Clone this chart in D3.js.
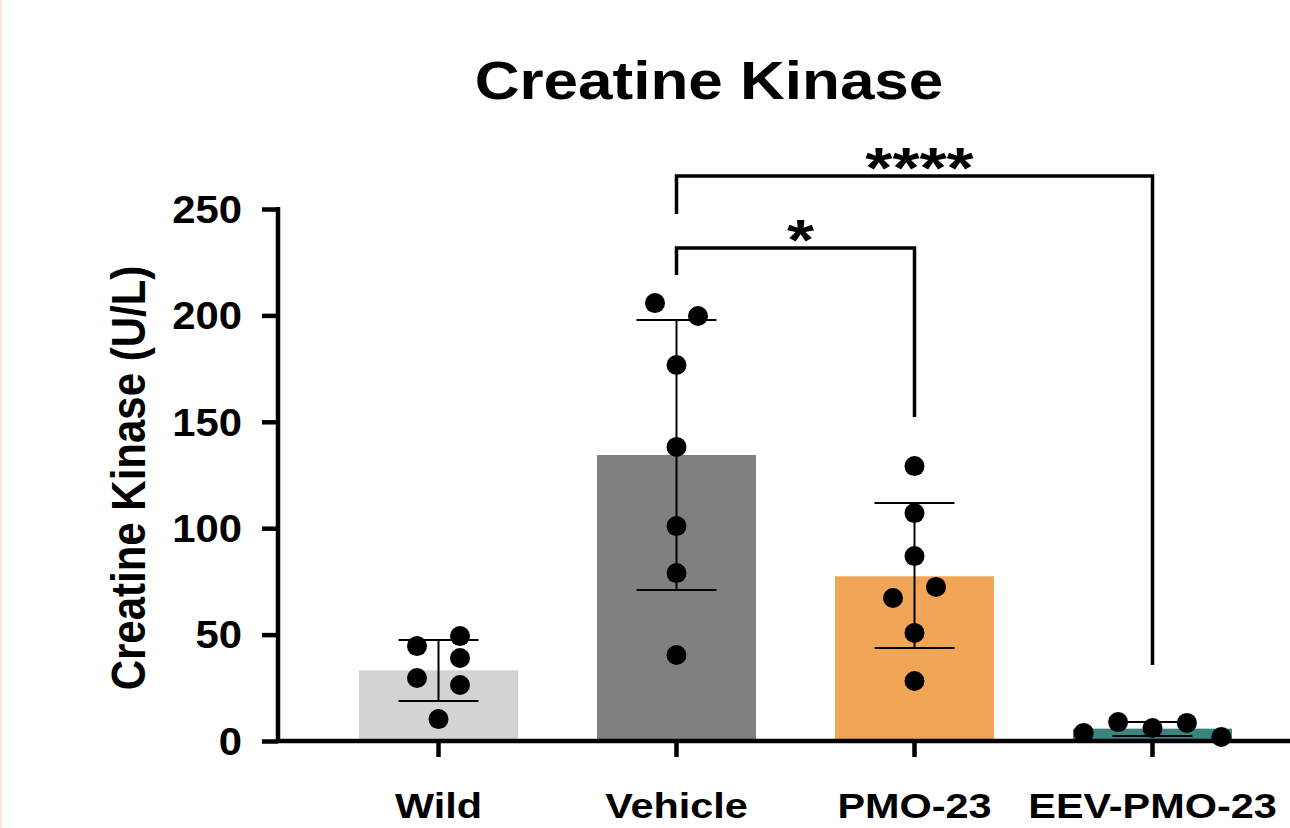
<!DOCTYPE html>
<html>
<head>
<meta charset="utf-8">
<script src="https://cdn.jsdelivr.net/npm/d3@7"></script>
<style>
  body { margin: 0; background: #fff; }
  svg { display: block; }
  text { font-family: "Liberation Sans", Arial, Helvetica, sans-serif; font-weight: bold; fill: #000; }
</style>
</head>
<body>
<div id="chart"></div>
<script>
// data
var groups = ["Wild", "Vehicle", "PMO-23", "EEV-PMO-23"];
var barColors = ["#d3d3d3", "#808080", "#f0a656", "#3a8580"];
var barMeans = [33.2, 134.4, 77.4, 5.8];
var errHigh = [47.5, 197.8, 111.8, 8.9];
var errLow = [18.8, 71.0, 43.7, 2.3];

var wildPts = [49.3, 44.6, 39.0, 29.6, 26.3, 10.3];
var vehiclePts = [205.8, 199.7, 176.7, 138.2, 101.0, 78.9, 40.4];
var pmoPts = [129.2, 107.1, 86.9, 72.4, 67.2, 50.8, 28.2];
var eevPts = [3.8, 8.9, 6.1, 8.5, 1.9];
// jitter slot of each dot (side-by-side placement)
var wildSlots = [1, -1, 1, -1, 1, 0];
var vehicleSlots = [-1, 1, 0, 0, 0, 0, 0];
var pmoSlots = [0, 0, 0, 1, -1, 0, 0];
var eevSlots = [-3.2, -1.6, 0, 1.6, 3.2];

var yTicks = [0, 50, 100, 150, 200, 250];

// significance brackets: from group, to group, bar height, leg ends, label
var sigFrom = ["Vehicle", "Vehicle"];
var sigTo = ["EEV-PMO-23", "PMO-23"];
var sigLevel = [265.5, 231.7];
var sigLeftEnd = [247.7, 219.0];
var sigRightEnd = [35.7, 152.3];
var sigLabel = ["****", "*"];

var W = 1290, H = 828;
var svg = d3.select("#chart").append("svg")
    .attr("width", W)
    .attr("height", H);

// faint left page edge
svg.append("rect")
    .attr("x", 0).attr("y", 0)
    .attr("width", 2).attr("height", H)
    .attr("fill", "#fcebd8");

var x = d3.scaleBand()
    .domain(groups)
    .range([280, 1311])
    .padding(0.332);

var y = d3.scaleLinear()
    .domain([0, 250])
    .range([741, 209]);

var sx = 1.15; // glyphs in the picture are a bit wide

function cx(g){ return x(g) + x.bandwidth() / 2; }

// bars
svg.selectAll(".bar")
    .data(groups)
    .enter()
    .append("rect")
    .attr("class", "bar")
    .attr("x", function(d){ return x(d); })
    .attr("width", x.bandwidth())
    .attr("y", function(d, i){ return y(barMeans[i]); })
    .attr("height", function(d, i){ return y(0) - y(barMeans[i]); })
    .attr("fill", function(d, i){ return barColors[i]; });

// error bars
var err = svg.append("g").attr("class", "errors")
    .attr("stroke", "#000")
    .attr("stroke-width", 2);
groups.forEach(function(g, i){
    var c = cx(g);
    err.append("line")
        .attr("x1", c).attr("x2", c)
        .attr("y1", y(errHigh[i])).attr("y2", y(errLow[i]));
    [errHigh[i], errLow[i]].forEach(function(v){
        err.append("line")
            .attr("x1", c - 40).attr("x2", c + 40)
            .attr("y1", y(v)).attr("y2", y(v));
    });
});

// dots
var pts = [wildPts, vehiclePts, pmoPts, eevPts];
var slots = [wildSlots, vehicleSlots, pmoSlots, eevSlots];
var dotData = [];
groups.forEach(function(g, i){
    pts[i].forEach(function(v, j){
        dotData.push({group: g, value: v, slot: slots[i][j]});
    });
});
svg.selectAll(".dot")
    .data(dotData)
    .enter()
    .append("circle")
    .attr("class", "dot")
    .attr("cx", function(d){ return cx(d.group) + d.slot * 21.5; })
    .attr("cy", function(d){ return y(d.value); })
    .attr("r", 10)
    .attr("fill", "#000");

// axes
var xAxis = d3.axisBottom(x).tickSize(16).tickSizeOuter(0);
var yAxis = d3.axisLeft(y).tickValues(yTicks).tickSize(16).tickSizeOuter(0);

var gy = svg.append("g")
    .attr("class", "y axis")
    .attr("transform", "translate(278,0)")
    .call(yAxis);
gy.select(".domain").attr("stroke-width", 4.5).attr("d", "M0," + (y(250) - 2) + "V" + (y(0) + 2));
gy.selectAll(".tick line").attr("stroke-width", 4.5);
gy.selectAll(".tick text")
    .attr("x", 0)
    .attr("dy", "0.35em")
    .attr("transform", "translate(-36,0) scale(1.1,1)")
    .style("font-size", "38px");

var gx = svg.append("g")
    .attr("class", "x axis")
    .attr("transform", "translate(0," + y(0) + ")")
    .call(xAxis);
gx.select(".domain").attr("stroke-width", 4.5).attr("d", "M276,0H1311");
gx.selectAll(".tick line").attr("stroke-width", 4.5);
gx.selectAll(".tick text")
    .attr("y", 0)
    .attr("dy", 0)
    .attr("transform", "translate(0,77) scale(" + sx + ",1)")
    .style("font-size", "36px");
svg.selectAll(".axis").attr("font-family", null).attr("font-size", null);

// significance brackets
var sig = svg.append("g").attr("class", "sig");
sigLabel.forEach(function(lab, i){
    var a = cx(sigFrom[i]), b = cx(sigTo[i]);
    sig.append("path")
        .attr("d", "M" + a + "," + y(sigLeftEnd[i]) +
                   "V" + y(sigLevel[i]) +
                   "H" + b +
                   "V" + y(sigRightEnd[i]))
        .attr("fill", "none")
        .attr("stroke", "#000")
        .attr("stroke-width", 3.5);
    sig.append("text")
        .attr("text-anchor", "middle")
        .attr("transform", "translate(" + ((a + b) / 2 + 5) + "," + (y(sigLevel[i]) + 12) + ") scale(1.2,1)")
        .style("font-size", "58px")
        .text(lab);
});

// title
svg.append("text")
    .attr("text-anchor", "middle")
    .attr("transform", "translate(709,99) scale(1.17,1)")
    .style("font-size", "53px")
    .text("Creatine Kinase");

// y axis label
svg.append("text")
    .attr("text-anchor", "middle")
    .attr("transform", "translate(145,478) rotate(-90) scale(1," + sx + ")")
    .style("font-size", "42px")
    .text("Creatine Kinase (U/L)");
</script>
</body>
</html>
